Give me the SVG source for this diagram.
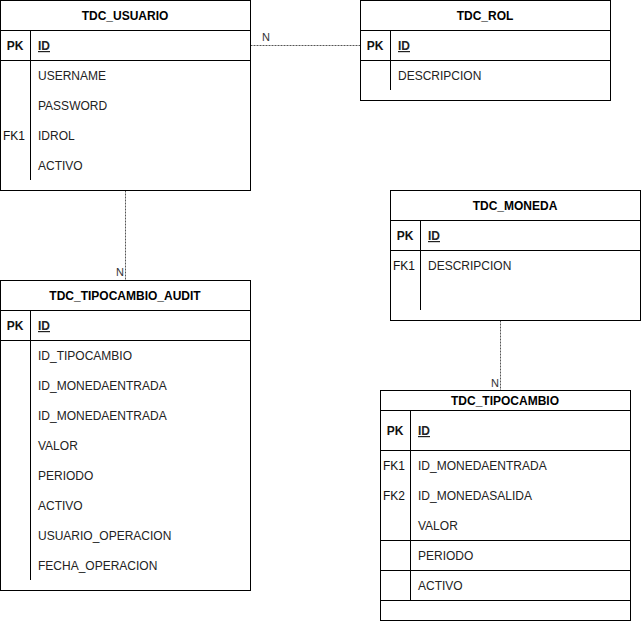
<svg xmlns="http://www.w3.org/2000/svg" width="641" height="621" viewBox="0 0 641 621">
  <style>
    .box { fill: #ffffff; stroke: #000000; stroke-width: 1; }
    .ln { stroke: #000000; stroke-width: 1; fill: none; }
    .title { font-family: "Liberation Sans", Arial, sans-serif; font-size: 12px; font-weight: bold; fill: #000000; text-anchor: middle; }
    .key { font-family: "Liberation Sans", Arial, sans-serif; font-size: 12px; fill: #111111; text-anchor: middle; }
    .pk { font-weight: bold; }
    .fld { font-family: "Liberation Sans", Arial, sans-serif; font-size: 12px; fill: #222222; }
    .id { font-weight: bold; text-decoration: underline; }
    .rel { stroke: #555555; stroke-width: 1; stroke-dasharray: 2 1; fill: none; }
    .card { font-family: "Liberation Sans", Arial, sans-serif; font-size: 11px; fill: #333333; }
  </style>

  <rect x="0" y="0" width="641" height="621" fill="#ffffff"/>

  <!-- relationships -->
  <g id="connectors">
    <line class="rel" x1="250.5" y1="45.5" x2="360.5" y2="45.5"/>
    <text class="card" x="262" y="41">N</text>
    <line class="rel" x1="125.5" y1="190.5" x2="125.5" y2="280.5"/>
    <text class="card" x="124" y="276" text-anchor="end">N</text>
    <line class="rel" x1="500.5" y1="320.5" x2="500.5" y2="390.5"/>
    <text class="card" x="499" y="387" text-anchor="end">N</text>
  </g>

  <!-- TDC_USUARIO -->
  <g id="tdc_usuario">
    <rect class="box" x="0.5" y="0.5" width="250" height="190"/>
    <line class="ln" x1="0.5" y1="30.5" x2="250.5" y2="30.5"/>
    <line class="ln" x1="0.5" y1="60.5" x2="250.5" y2="60.5"/>
    <line class="ln" x1="30.5" y1="30.5" x2="30.5" y2="180"/>
    <text class="title" x="125" y="20">TDC_USUARIO</text>
    <text class="key pk" x="15" y="50">PK</text>
    <text class="fld id" x="38" y="50">ID</text>
    <text class="fld" x="38" y="80">USERNAME</text>
    <text class="fld" x="38" y="110">PASSWORD</text>
    <text class="key" x="14" y="140">FK1</text>
    <text class="fld" x="38" y="140">IDROL</text>
    <text class="fld" x="38" y="170">ACTIVO</text>
  </g>

  <!-- TDC_ROL -->
  <g id="tdc_rol">
    <rect class="box" x="360.5" y="0.5" width="250" height="100"/>
    <line class="ln" x1="360.5" y1="30.5" x2="610.5" y2="30.5"/>
    <line class="ln" x1="360.5" y1="60.5" x2="610.5" y2="60.5"/>
    <line class="ln" x1="390.5" y1="30.5" x2="390.5" y2="90"/>
    <text class="title" x="485" y="20">TDC_ROL</text>
    <text class="key pk" x="375" y="50">PK</text>
    <text class="fld id" x="398" y="50">ID</text>
    <text class="fld" x="398" y="80">DESCRIPCION</text>
  </g>

  <!-- TDC_MONEDA -->
  <g id="tdc_moneda">
    <rect class="box" x="390.5" y="190.5" width="250" height="130"/>
    <line class="ln" x1="390.5" y1="220.5" x2="640.5" y2="220.5"/>
    <line class="ln" x1="390.5" y1="250.5" x2="640.5" y2="250.5"/>
    <line class="ln" x1="420.5" y1="220.5" x2="420.5" y2="310"/>
    <text class="title" x="515" y="210">TDC_MONEDA</text>
    <text class="key pk" x="405" y="240">PK</text>
    <text class="fld id" x="428" y="240">ID</text>
    <text class="key" x="404" y="270">FK1</text>
    <text class="fld" x="428" y="270">DESCRIPCION</text>
  </g>

  <!-- TDC_TIPOCAMBIO_AUDIT -->
  <g id="tdc_tipocambio_audit">
    <rect class="box" x="0.5" y="280.5" width="250" height="310"/>
    <line class="ln" x1="0.5" y1="310.5" x2="250.5" y2="310.5"/>
    <line class="ln" x1="0.5" y1="340.5" x2="250.5" y2="340.5"/>
    <line class="ln" x1="30.5" y1="310.5" x2="30.5" y2="580"/>
    <text class="title" x="125" y="300">TDC_TIPOCAMBIO_AUDIT</text>
    <text class="key pk" x="15" y="330">PK</text>
    <text class="fld id" x="38" y="330">ID</text>
    <text class="fld" x="38" y="360">ID_TIPOCAMBIO</text>
    <text class="fld" x="38" y="390">ID_MONEDAENTRADA</text>
    <text class="fld" x="38" y="420">ID_MONEDAENTRADA</text>
    <text class="fld" x="38" y="450">VALOR</text>
    <text class="fld" x="38" y="480">PERIODO</text>
    <text class="fld" x="38" y="510">ACTIVO</text>
    <text class="fld" x="38" y="540">USUARIO_OPERACION</text>
    <text class="fld" x="38" y="570">FECHA_OPERACION</text>
  </g>

  <!-- TDC_TIPOCAMBIO -->
  <g id="tdc_tipocambio">
    <rect class="box" x="380.5" y="390.5" width="250" height="230"/>
    <line class="ln" x1="380.5" y1="410.5" x2="630.5" y2="410.5"/>
    <line class="ln" x1="380.5" y1="450.5" x2="630.5" y2="450.5"/>
    <line class="ln" x1="380.5" y1="540.5" x2="630.5" y2="540.5"/>
    <line class="ln" x1="380.5" y1="570.5" x2="630.5" y2="570.5"/>
    <line class="ln" x1="380.5" y1="600.5" x2="630.5" y2="600.5"/>
    <line class="ln" x1="410.5" y1="410.5" x2="410.5" y2="600.5"/>
    <text class="title" x="505" y="405">TDC_TIPOCAMBIO</text>
    <text class="key pk" x="395" y="435">PK</text>
    <text class="fld id" x="418" y="435">ID</text>
    <text class="key" x="394" y="470">FK1</text>
    <text class="fld" x="418" y="470">ID_MONEDAENTRADA</text>
    <text class="key" x="394" y="500">FK2</text>
    <text class="fld" x="418" y="500">ID_MONEDASALIDA</text>
    <text class="fld" x="418" y="530">VALOR</text>
    <text class="fld" x="418" y="560">PERIODO</text>
    <text class="fld" x="418" y="590">ACTIVO</text>
  </g>
</svg>
